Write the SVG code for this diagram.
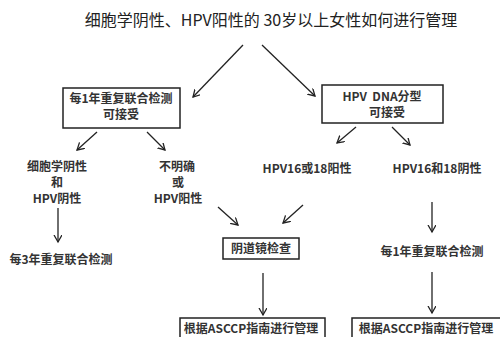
<svg xmlns="http://www.w3.org/2000/svg" width="500" height="337" viewBox="0 0 500 337">
<defs>
<style>
.t{font-family:"Noto Sans CJK SC","Liberation Sans",sans-serif;font-size:12px;font-weight:bold;fill:#333;text-anchor:middle}
.ti{font-family:"Noto Sans CJK SC","Liberation Sans",sans-serif;font-size:16px;fill:#222;text-anchor:middle}
.b{fill:#fff;stroke:#222;stroke-width:1.5}
.c line{stroke:#222;stroke-width:1.3;marker-end:url(#ah)}
</style>
<marker id="ah" markerUnits="userSpaceOnUse" markerWidth="10" markerHeight="10" refX="7" refY="4" orient="auto">
<path d="M0,0 L7,4 L0,8" fill="none" stroke="#222" stroke-width="1.3"/>
</marker>
</defs>
<rect width="500" height="337" fill="#fff"/>
<g id="title"><text class="ti" x="271" y="26">细胞学阴性、HPV阳性的 30岁以上女性如何进行管理</text></g>
<g class="c" id="connectors">
<line x1="243" y1="45" x2="193" y2="97"/>
<line x1="262" y1="45" x2="315" y2="96"/>
<line x1="97" y1="132" x2="77" y2="150"/>
<line x1="147" y1="132" x2="165" y2="150"/>
<line x1="356" y1="127" x2="337" y2="143"/>
<line x1="392" y1="127" x2="410" y2="145"/>
<line x1="58" y1="208" x2="58" y2="242"/>
<line x1="218" y1="207" x2="238" y2="225"/>
<line x1="303" y1="205" x2="283" y2="223"/>
<line x1="263" y1="273" x2="263" y2="315"/>
<line x1="432" y1="202" x2="432" y2="232"/>
<line x1="432" y1="272" x2="432" y2="313"/>
</g>
<g id="n1">
<rect class="b" x="63" y="88" width="117" height="40"/>
<text class="t" x="121" y="103">每1年重复联合检测</text>
<text class="t" x="121" y="119">可接受</text>
</g>
<g id="n2">
<rect class="b" x="322" y="85" width="121" height="38"/>
<text class="t" x="382" y="101" xml:space="preserve">HPV  DNA分型</text>
<text class="t" x="387" y="117">可接受</text>
</g>
<g id="n3">
<text class="t" x="57" y="171">细胞学阴性</text>
<text class="t" x="57" y="187">和</text>
<text class="t" x="57" y="203">HPV阴性</text>
</g>
<g id="n4">
<text class="t" x="177" y="171">不明确</text>
<text class="t" x="178" y="187">或</text>
<text class="t" x="178" y="203">HPV阳性</text>
</g>
<g id="n5"><text class="t" x="307" y="173">HPV16或18阳性</text></g>
<g id="n6"><text class="t" x="437" y="173">HPV16和18阴性</text></g>
<g id="n7"><text class="t" x="61" y="264">每3年重复联合检测</text></g>
<g id="n8">
<rect class="b" x="223" y="238" width="76" height="21"/>
<text class="t" x="261" y="253">阴道镜检查</text>
</g>
<g id="n9"><text class="t" x="432" y="256">每1年重复联合检测</text></g>
<g id="n10">
<rect class="b" x="180" y="318" width="145" height="25"/>
<text class="t" x="251" y="333">根据ASCCP指南进行管理</text>
</g>
<g id="n11">
<rect class="b" x="352" y="318" width="150" height="25"/>
<text class="t" x="426" y="333">根据ASCCP指南进行管理</text>
</g>
</svg>
